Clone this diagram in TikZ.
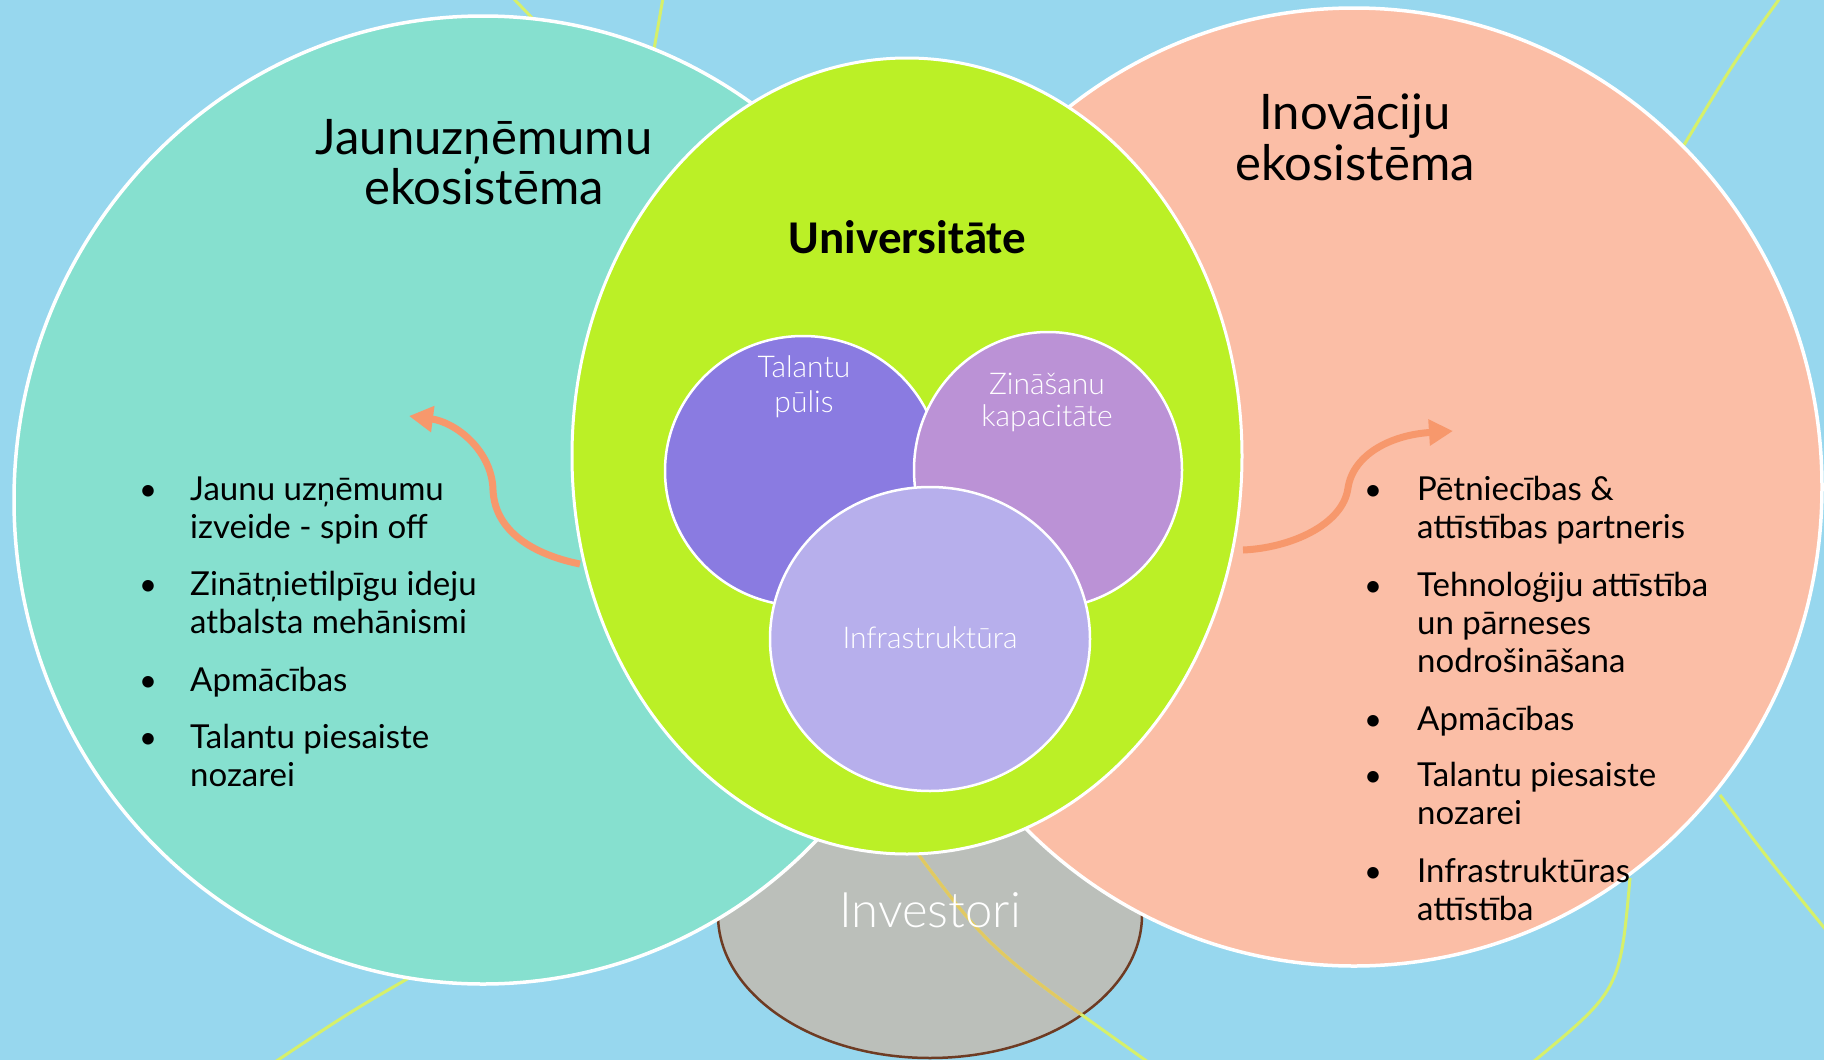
\documentclass[tikz,border=0pt]{standalone}
\usepackage{fontspec}
\setmainfont{Lato}
\IfFontExistsTF{Lato Light}{\newfontfamily\lightfont{Lato Light}}{\newfontfamily\lightfont{Lato}}
\newfontfamily\calfont{Carlito}
\usetikzlibrary{shapes.geometric,arrows.meta}
\definecolor{cBg}{HTML}{97D7EE}
\definecolor{cTeal}{HTML}{86E0CF}
\definecolor{cSalmon}{HTML}{FBBEA6}
\definecolor{cGreen}{HTML}{BBF026}
\definecolor{cPurA}{HTML}{8A7BE1}
\definecolor{cPurB}{HTML}{BB92D6}
\definecolor{cPurC}{HTML}{B7AFEC}
\definecolor{cGray}{HTML}{BBBFBA}
\definecolor{cBrown}{HTML}{6E3B23}
\definecolor{cLine}{HTML}{D6F06A}
\definecolor{cOchre}{HTML}{E2C862}
\definecolor{cArrow}{HTML}{F7986C}
\newcommand\stackc[1]{\vtop{\halign{\hfil##\hfil\cr#1\crcr}}}
\newcommand\stackl[1]{\vtop{\halign{##\hfil\cr#1\crcr}}}
\tikzset{
  blob/.style={ellipse, inner sep=0pt, outer sep=0pt, draw=white, line width=3.5pt},
  inner/.style={ellipse, inner sep=0pt, outer sep=0pt, draw=white, line width=2.5pt},
  bgline/.style={draw=cLine, line width=3pt},
  flow/.style={draw=cArrow, line width=7pt, -{Triangle[length=24pt,width=25pt]}},
  title/.style={anchor=base, inner sep=0pt, font=\fontsize{49}{50.5}\selectfont, text=black},
  itemtxt/.style={anchor=base west, inner sep=0pt, font=\fontsize{33}{38.4}\selectfont, text=black},
  dot/.style={anchor=base, inner sep=0pt, font=\fontsize{31}{38.4}\selectfont, text=black},
  lbl/.style={anchor=base, inner sep=0pt, font=\lightfont\fontsize{30}{35}\selectfont, text=white},
}
\begin{document}
\begin{tikzpicture}[x=1pt,y=-1pt]
\useasboundingbox (0,0) rectangle (1824,1060);
\fill[cBg] (0,0) rectangle (1824,1060);
\clip (0,0) rectangle (1824,1060);
% investors
\node[ellipse, inner sep=0pt, fill=cGray, draw=cBrown, line width=2.5pt, minimum width=424pt, minimum height=286pt] (inv) at (930,915) {};
% background decorative lines
\draw[bgline] (513,-2) -- (536,22);
\draw[bgline] (663,-2) -- (653,55);
\draw[bgline] (1780,-2) .. controls (1734,62) .. (1684,145);
\draw[bgline] (1720,795) .. controls (1765,855) .. (1826,930);
\draw[bgline] (1630,878) .. controls (1620,990) .. (1533,1062);
\draw[bgline] (414,975) .. controls (350,1012) .. (275,1062);
\draw[bgline] (915,850) .. controls (990,950) .. (1148,1062);
\begin{scope}
\clip (930,915) ellipse [x radius=211pt, y radius=142pt];
\draw[bgline, draw=cOchre] (915,850) .. controls (990,950) .. (1148,1062);
\end{scope}
% ecosystems
\node[blob, fill=cTeal, minimum width=938pt, minimum height=968pt] (startup) at (483,500) {};
\node[blob, fill=cSalmon, minimum width=936pt, minimum height=958pt] (innov) at (1354,487) {};
% arrows
\coordinate (la0) at (580,564);
\coordinate (la1) at (493,490);
\coordinate (la2) at (409,416);
\draw[flow] (la0) .. controls (540,556) and (495,535) .. (la1) .. controls (492,450) and (455,422) .. (la2);
\coordinate (ra0) at (1243,550);
\coordinate (ra1) at (1348,488);
\coordinate (ra2) at (1453,431);
\draw[flow] (ra0) .. controls (1290,548) and (1343,525) .. (ra1) .. controls (1353,455) and (1390,435) .. (ra2);
% university
\node[blob, line width=3pt, fill=cGreen, minimum width=670pt, minimum height=796pt] (uni) at (907,456) {};
\node[inner, fill=cPurA, minimum width=276pt, minimum height=270pt] (tal) at (803,471) {};
\node[inner, fill=cPurB, minimum width=268pt, minimum height=276pt] (zin) at (1048,470) {};
\node[inner, fill=cPurC, minimum width=320pt, minimum height=304pt] (infra) at (930,639) {};
% texts
\node[title] (t1) at (484,154) {\stackc{Jaunuzņēmumu\cr ekosistēma}};
\node[title] (t2) at (1355,129.5) {\stackc{Inovāciju\cr ekosistēma}};
\node[anchor=base, inner sep=0pt, font=\calfont\bfseries\fontsize{47}{50}\selectfont] (tu) at (907.5,253) {Universitāte};
\node[lbl] (ltal) at (804,377) {\stackc{Talantu\cr pūlis}};
\node[lbl, font=\lightfont\fontsize{30}{32.5}\selectfont] (lzin) at (1047,394) {\stackc{Zināšanu\cr kapacitāte}};
\node[lbl] (linf) at (930,648) {Infrastruktūra};
\node[lbl, font=\lightfont\fontsize{49}{52}\selectfont] (linv) at (930,927) {Investori};
% left bullets
\node[dot] (lb1) at (148,500) {•};
\node[itemtxt] (li1) at (190,500) {\stackl{Jaunu uzņēmumu\cr izveide - spin off}};
\node[dot] (lb2) at (148,595) {•};
\node[itemtxt] (li2) at (190,595) {\stackl{Zinātņietilpīgu ideju\cr atbalsta mehānismi}};
\node[dot] (lb3) at (148,691) {•};
\node[itemtxt] (li3) at (190,691) {Apmācības};
\node[dot] (lb4) at (148,748) {•};
\node[itemtxt] (li4) at (190,748) {\stackl{Talantu piesaiste\cr nozarei}};
% right bullets
\node[dot] (rb1) at (1373,500) {•};
\node[itemtxt] (ri1) at (1417,500) {\stackl{Pētniecības \&\cr attīstības partneris}};
\node[dot] (rb2) at (1373,596) {•};
\node[itemtxt] (ri2) at (1417,596) {\stackl{Tehnoloģiju attīstība\cr un pārneses\cr nodrošināšana}};
\node[dot] (rb3) at (1373,730) {•};
\node[itemtxt] (ri3) at (1417,730) {Apmācības};
\node[dot] (rb4) at (1373,786) {•};
\node[itemtxt] (ri4) at (1417,786) {\stackl{Talantu piesaiste\cr nozarei}};
\node[dot] (rb5) at (1373,882) {•};
\node[itemtxt] (ri5) at (1417,882) {\stackl{Infrastruktūras\cr attīstība}};
\end{tikzpicture}
\end{document}
